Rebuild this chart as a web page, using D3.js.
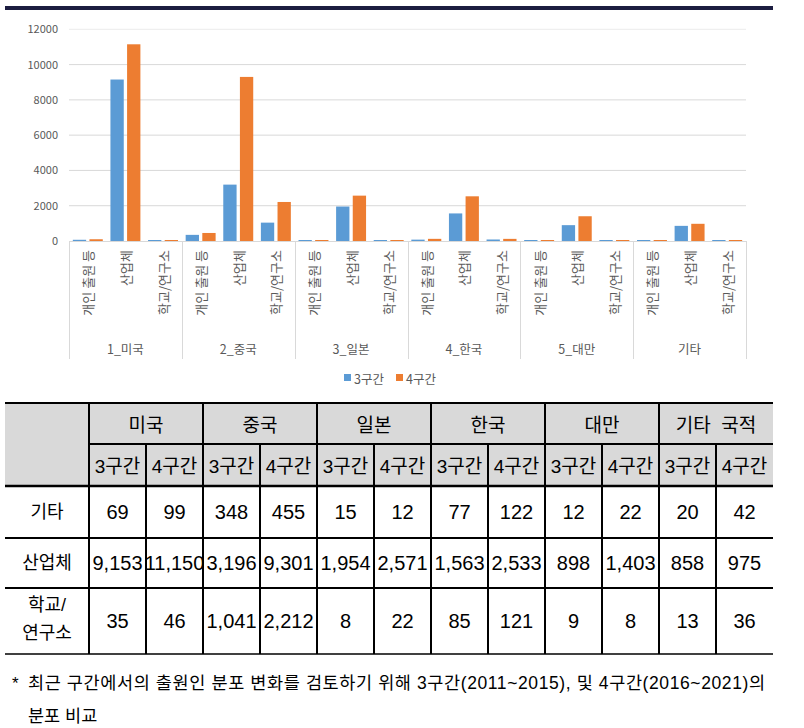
<!DOCTYPE html>
<html><head><meta charset="utf-8">
<script src="https://cdn.jsdelivr.net/npm/d3@7"></script>
<style>body{margin:0;background:#fff}svg{display:block}</style>
</head><body><svg id="c" width="804" height="728"></svg>
<script>
const countries = ["1_미국","2_중국","3_일본","4_한국","5_대만","기타"];
const tableCountries = ["미국","중국","일본","한국","대만","기타  국적"];
const subcats = ["개인 출원 등","산업체","학교/연구소"];
const series = ["3구간","4구간"];
const yTicks = [0,2000,4000,6000,8000,10000,12000];
// values per country: [기타(개인 출원 등), 산업체, 학교/연구소]
const s3_other = [69,348,15,77,12,20];
const s3_industry = [9153,3196,1954,1563,898,858];
const s3_school = [35,1041,8,85,9,13];
const s4_other = [99,455,12,122,22,42];
const s4_industry = [11150,9301,2571,2533,1403,975];
const s4_school = [46,2212,22,121,8,36];
const rowLabels = [["기타"],["산업체"],["학교/","연구소"]];
const footnote1 = "최근 구간에서의 출원인 분포 변화를 검토하기 위해 3구간(2011~2015), 및 4구간(2016~2021)의";
const footnote2 = "분포 비교";

const colors = {"3구간":"#5B9BD5","4구간":"#ED7D31"};
const svg = d3.select("#c");
const KFONT = "'Noto Sans CJK KR','Noto Sans',sans-serif";
const TFONT = "'Liberation Sans','Noto Sans CJK KR',sans-serif";

// top bar
svg.append("rect").attr("x",5).attr("y",6).attr("width",768).attr("height",4).attr("fill","#1c1d40");

// scales
const x0 = d3.scaleBand().domain(countries).range([69,746]);
const x1 = d3.scaleBand().domain(subcats).range([0,x0.bandwidth()]);
const x2 = d3.scaleBand().domain(series).range([0,x1.bandwidth()]).paddingInner(0.2).paddingOuter(0.23);
const y = d3.scaleLinear().domain([0,12000]).range([241,29.3]);

// gridlines
svg.append("g").selectAll("line").data(yTicks.filter(d=>d>0)).join("line")
  .attr("x1",69).attr("x2",746).attr("y1",d=>y(d)).attr("y2",d=>y(d))
  .attr("stroke",d=>d===12000?"#ececec":"#d9d9d9").attr("stroke-width",1);

// y axis
const yAxis = svg.append("g").attr("transform","translate(69,0)")
  .call(d3.axisLeft(y).tickValues(yTicks).tickSize(0).tickPadding(11).tickFormat(d3.format("d")));
yAxis.select(".domain").remove();
yAxis.selectAll("text").attr("font-family",KFONT).attr("font-size",11).attr("fill","#595959");

// data table
const data = [];
const s3 = [s3_other,s3_industry,s3_school], s4=[s4_other,s4_industry,s4_school];
countries.forEach((c,ci)=>subcats.forEach((s,si)=>{
  data.push({c,s,k:"3구간",v:s3[si][ci]});
  data.push({c,s,k:"4구간",v:s4[si][ci]});
}));
svg.append("g").selectAll("rect").data(data).join("rect")
  .attr("x",d=>x0(d.c)+x1(d.s)+x2(d.k))
  .attr("width",x2.bandwidth())
  .attr("y",d=>Math.min(y(d.v),240))
  .attr("height",d=>Math.max(1,241-y(d.v)))
  .attr("fill",d=>colors[d.k]);

// axis line
svg.append("line").attr("x1",69).attr("x2",746).attr("y1",241.5).attr("y2",241.5).attr("stroke","#d9d9d9");
// separators
const seps = countries.map(c=>x0(c)).concat([x0.range()[1]]);
svg.append("g").selectAll("line").data(seps).join("line")
  .attr("x1",d=>Math.round(d)+0.5).attr("x2",d=>Math.round(d)+0.5).attr("y1",241).attr("y2",359)
  .attr("stroke","#d9d9d9");

// subcategory labels
const subl = [];
countries.forEach(c=>subcats.forEach(s=>subl.push({c,s})));
svg.append("g").selectAll("text").data(subl).join("text")
  .attr("transform",d=>`translate(${x0(d.c)+x1(d.s)+x1.bandwidth()/2},250) rotate(-90)`)
  .attr("text-anchor","end").attr("dominant-baseline","central")
  .attr("font-family",KFONT).attr("font-size",13).attr("fill","#595959").text(d=>d.s);

// country labels
svg.append("g").selectAll("text").data(countries).join("text")
  .attr("x",d=>x0(d)+x0.bandwidth()/2).attr("y",348)
  .attr("text-anchor","middle").attr("dominant-baseline","central")
  .attr("font-family",KFONT).attr("font-size",12.5).attr("fill","#595959").text(d=>d);

// legend
const lg = svg.append("g");
series.forEach((s,i)=>{
  const lx = 344 + i*52;
  lg.append("rect").attr("x",lx).attr("y",374).attr("width",7).attr("height",7).attr("fill",colors[s]);
  lg.append("text").attr("x",lx+10).attr("y",378).attr("dominant-baseline","central")
    .attr("font-family",KFONT).attr("font-size",12.5).attr("fill","#595959").text(s);
});

// ---- table ----
const T = svg.append("g");
const tx0 = 5, tx1 = 89, tx2 = 773, cw = (tx2-tx1)/12;
const ry = [403,444,486,538,588,654];
T.append("rect").attr("x",tx0).attr("y",ry[0]).attr("width",tx2-tx0).attr("height",ry[2]-ry[0]).attr("fill","#d9d9d9");
const hl = (xa,xb,yy,w)=>T.append("line").attr("x1",xa).attr("x2",xb).attr("y1",yy).attr("y2",yy).attr("stroke","#000").attr("stroke-width",w);
const vl = (xx,ya,yb,w)=>T.append("line").attr("x1",xx).attr("x2",xx).attr("y1",ya).attr("y2",yb).attr("stroke","#000").attr("stroke-width",w);
hl(tx0,tx2,ry[0],2);
hl(tx1,tx2,ry[1],2);
hl(tx0,tx2,ry[2],2.5);
hl(tx0,tx2,ry[3],2);
hl(tx0,tx2,ry[4],2);
hl(tx0,tx2,ry[5],1.5);
vl(tx1,ry[0],ry[5],2);
for(let i=1;i<12;i++){
  const xx = tx1 + i*cw;
  vl(xx, i%2===0?ry[0]:ry[1], ry[5], 2);
}
// headers
tableCountries.forEach((c,i)=>{
  T.append("text").attr("x",tx1+cw*(2*i+1)).attr("y",425).attr("text-anchor","middle").attr("dominant-baseline","central")
   .attr("font-family",TFONT).attr("font-size",19).attr("fill","#000").attr("xml:space","preserve").text(c);
  series.forEach((s,j)=>{
    T.append("text").attr("x",tx1+cw*(2*i+j+0.5)).attr("y",466).attr("text-anchor","middle").attr("dominant-baseline","central")
     .attr("font-family",TFONT).attr("font-size",19).attr("fill","#000").text(s);
  });
});
const rowCenters = [512,563,621];
const fmt = d3.format(",");
rowLabels.forEach((lab,r)=>{
  lab.forEach((t,k)=>{
    const yy = lab.length===1 ? rowCenters[r] : (k===0?605:633);
    T.append("text").attr("x",(tx0+tx1)/2).attr("y",yy).attr("text-anchor","middle").attr("dominant-baseline","central")
     .attr("font-family",TFONT).attr("font-size",18).attr("fill","#000").text(t);
  });
  countries.forEach((c,ci)=>{
    [s3[r][ci], s4[r][ci]].forEach((v,j)=>{
      T.append("text").attr("x",tx1+cw*(2*ci+j+0.5)).attr("y",rowCenters[r]).attr("text-anchor","middle").attr("dominant-baseline","central")
       .attr("font-family",TFONT).attr("font-size",20).attr("fill","#000").text(fmt(v));
    });
  });
});

// footnote
svg.append("text").attr("x",12).attr("y",683).attr("dominant-baseline","central")
  .attr("font-family",TFONT).attr("font-size",17).attr("fill","#000").text("*");
svg.append("text").attr("x",28).attr("y",683).attr("dominant-baseline","central")
  .attr("font-family",TFONT).attr("font-size",17.5).attr("fill","#000")
  .attr("textLength",737).attr("lengthAdjust","spacing").text(footnote1);
svg.append("text").attr("x",28).attr("y",716).attr("dominant-baseline","central")
  .attr("font-family",TFONT).attr("font-size",17.5).attr("fill","#000").attr("xml:space","preserve").text(footnote2);
</script></body></html>
